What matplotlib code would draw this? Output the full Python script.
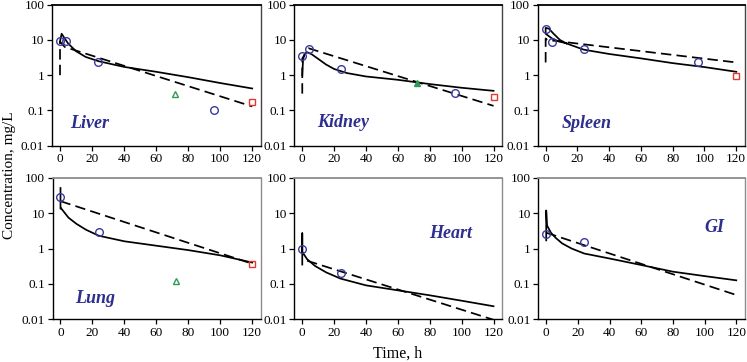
import matplotlib.pyplot as plt

# ---- data (time in h, concentration in mg/L) ----
# Liver
liver_circ_t = [0, 4, 24, 96]
liver_circ_c = [9.5, 9.5, 2.4, 0.1]
liver_tri_t = [72]
liver_tri_c = [0.3]
liver_sq_t = [120]
liver_sq_c = [0.17]
liver_solid_t = [0, 1, 5, 10, 16, 24, 40, 60, 80, 100, 120]
liver_solid_c = [9, 15, 8, 4.8, 3.3, 2.5, 1.72, 1.25, 0.88, 0.6, 0.42]
liver_dash_t = [0, 0, 3, 120]
liver_dash_c = [1.0, 9, 6.3, 0.13]

# Kidney
kidney_circ_t = [0, 4, 24, 96]
kidney_circ_c = [3.4, 5.4, 1.48, 0.32]
kidney_tri_t = [72]
kidney_tri_c = [0.62]
kidney_sq_t = [120]
kidney_sq_c = [0.24]
kidney_solid_t = [0, 0.5, 1.5, 3, 6, 10, 15, 20, 28, 40, 60, 80, 100, 120]
kidney_solid_c = [1.0, 2.8, 4.0, 4.5, 3.9, 2.9, 2.0, 1.5, 1.15, 0.92, 0.74, 0.56, 0.44, 0.36]
kidney_dash_t = [0, 0, 4, 120]
kidney_dash_c = [0.3, 3.0, 5.8, 0.135]

# Spleen
spleen_circ_t = [0, 4, 24, 96]
spleen_circ_c = [20, 8.7, 5.6, 2.4]
spleen_sq_t = [120]
spleen_sq_c = [0.95]
spleen_solid_t = [13, 8, 4, 0, 0, 2, 5, 9, 13, 24, 40, 60, 80, 100, 120]
spleen_solid_c = [8, 9.2, 11, 15, 22, 21, 15, 10, 8, 5.3, 4.0, 3.0, 2.2, 1.7, 1.25]
spleen_dash_t = [0, 0, 1, 120]
spleen_dash_c = [2.3, 11, 10, 2.3]

# Lung
lung_circ_t = [0, 24]
lung_circ_c = [29, 2.9]
lung_tri_t = [72]
lung_tri_c = [0.12]
lung_sq_t = [120]
lung_sq_c = [0.36]
lung_solid_t = [0, 0, 0.3, 5, 10, 16, 24, 40, 60, 80, 100, 120]
lung_solid_c = [52, 13.5, 14, 7.5, 5, 3.4, 2.3, 1.6, 1.2, 0.9, 0.64, 0.4]
lung_dash_t = [0, 120]
lung_dash_c = [22, 0.37]

# Heart
heart_circ_t = [0, 24]
heart_circ_c = [0.94, 0.196]
heart_solid_t = [0, 0, 0, 3, 8, 15, 24, 40, 60, 80, 100, 120]
heart_solid_c = [0.35, 2.7, 0.8, 0.5, 0.32, 0.21, 0.14, 0.09, 0.065, 0.047, 0.033, 0.023]
heart_dash_t = [3, 120]
heart_dash_c = [0.45, 0.0095]

# GI
gi_circ_t = [0, 24]
gi_circ_c = [2.5, 1.5]
gi_solid_t = [0, 0, 0.5, 3, 6, 10, 16, 24, 40, 60, 80, 100, 120]
gi_solid_c = [1.7, 12, 4.5, 2.8, 2.0, 1.4, 1.0, 0.72, 0.52, 0.34, 0.22, 0.165, 0.125]
gi_dash_t = [0, 120]
gi_dash_c = [2.8, 0.048]

x_ticks = [0, 20, 40, 60, 80, 100, 120]
y_ticks = [0.01, 0.1, 1, 10, 100]
y_tick_labels = ['0.01', '0.1', '1', '10', '100']

plt.rcParams['font.family'] = ['Liberation Serif', 'DejaVu Serif']

blue = '#3a3a9c'
green = '#2f9a55'
red = '#e23a2e'
label_color = '#2e2e8e'

fig = plt.figure(figsize=(7.47, 3.62), dpi=100)

W, H = 747.0, 362.0
# axes boxes in pixels: left, top, right, bottom
boxes = [
    (52, 4.7, 261, 145.7),
    (294.3, 4.7, 502.3, 145.7),
    (537.7, 4.7, 745, 145.7),
    (52.5, 178, 261, 319),
    (294.3, 178, 502.3, 319),
    (538.3, 178, 745, 319),
]

panels = [
    ('Liver', liver_circ_t, liver_circ_c, liver_tri_t, liver_tri_c, False,
     liver_sq_t, liver_sq_c, liver_solid_t, liver_solid_c, liver_dash_t, liver_dash_c,
     (0.086, 0.123)),
    ('Kidney', kidney_circ_t, kidney_circ_c, kidney_tri_t, kidney_tri_c, True,
     kidney_sq_t, kidney_sq_c, kidney_solid_t, kidney_solid_c, kidney_dash_t, kidney_dash_c,
     (0.112, 0.135)),
    ('Spleen', spleen_circ_t, spleen_circ_c, [], [], False,
     spleen_sq_t, spleen_sq_c, spleen_solid_t, spleen_solid_c, spleen_dash_t, spleen_dash_c,
     (0.116, 0.128)),
    ('Lung', lung_circ_t, lung_circ_c, lung_tri_t, lung_tri_c, False,
     lung_sq_t, lung_sq_c, lung_solid_t, lung_solid_c, lung_dash_t, lung_dash_c,
     (0.11, 0.111)),
    ('Heart', heart_circ_t, heart_circ_c, [], [], False,
     [], [], heart_solid_t, heart_solid_c, heart_dash_t, heart_dash_c,
     (0.648, 0.577)),
    ('GI', gi_circ_t, gi_circ_c, [], [], False,
     [], [], gi_solid_t, gi_solid_c, gi_dash_t, gi_dash_c,
     (0.805, 0.62)),
]

for i, (box, p) in enumerate(zip(boxes, panels)):
    (name, ct, cc, tt, tc, tri_filled, st, sc, lt, lc, dt, dc, lab_pos) = p
    l, t, r, b = box
    ax = fig.add_axes([l / W, 1 - b / H, (r - l) / W, (b - t) / H])
    ax.set_yscale('log')
    ax.set_xlim(-5, 125.5)
    ax.set_ylim(0.01, 100)

    ax.plot(lt, lc, color='black', lw=1.25, solid_joinstyle='round', zorder=3)
    ax.plot(dt, dc, color='black', lw=1.25, dashes=(6, 3), zorder=3)
    ax.plot(ct, cc, 'o', mfc='none', mec=blue, ms=5.5, mew=1.0, zorder=4)
    if tt:
        ax.plot(tt, tc, '^', mfc=green if tri_filled else 'none', mec=green,
                ms=5, mew=1.0, zorder=4)
    if st:
        ax.plot(st, sc, 's', mfc='none', mec=red, ms=5, mew=1.0, zorder=4)

    ax.text(lab_pos[0], lab_pos[1], name, transform=ax.transAxes,
            fontsize=13, fontweight='bold', fontstyle='italic', color=label_color)

    ax.set_xticks(x_ticks)
    ax.set_xticklabels([str(v) for v in x_ticks])
    ax.set_yticks(y_ticks)
    ax.set_yticklabels(y_tick_labels)
    ax.minorticks_off()
    ax.tick_params(direction='out', length=3.5, width=0.9, labelsize=9.5, pad=2,
                   colors='black')

    for side in ['left', 'bottom']:
        ax.spines[side].set_color('black')
        ax.spines[side].set_linewidth(1.0)
    if i < 3:
        ax.spines['top'].set_color('black')
        ax.spines['right'].set_color('#444444')
    else:
        ax.spines['top'].set_color('#8c8c8c')
        ax.spines['right'].set_color('#8c8c8c')
    ax.spines['top'].set_linewidth(1.3)
    ax.spines['right'].set_linewidth(1.0)

fig.text(10 / W, 1 - 175 / H, 'Concentration, mg/L', rotation=90,
         ha='center', va='center', fontsize=11)
fig.text(398 / W, 1 - 354 / H, 'Time, h', ha='center', va='center', fontsize=11.5)

fig.savefig('out.png', dpi=100)
